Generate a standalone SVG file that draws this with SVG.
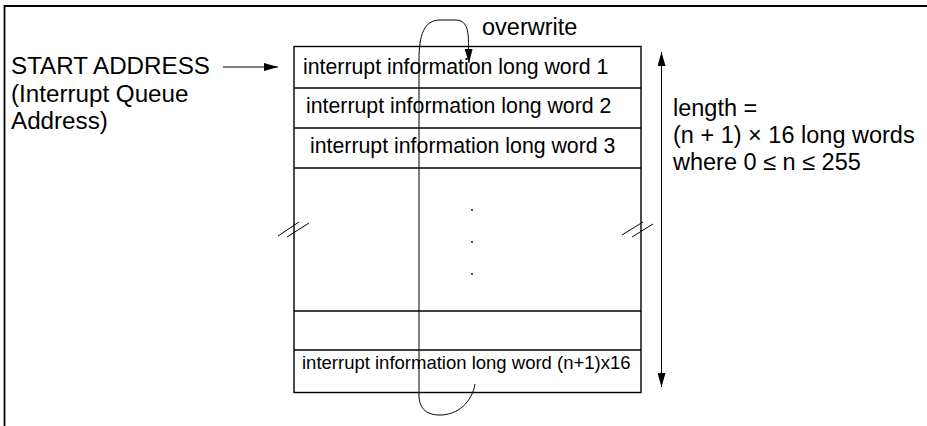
<svg xmlns="http://www.w3.org/2000/svg" width="927" height="426" viewBox="0 0 927 426">
<style>
text{font-family:"Liberation Sans",Arial,sans-serif;fill:#000}
.lbl{font-size:23.5px}
.lbl2{font-size:24.2px}
.row{font-size:21.3px}
.rowsm{font-size:18.5px}
.ln{stroke:#000;stroke-width:1.4;fill:none}
.thin{stroke:#000;stroke-width:1;fill:none}
.frame{stroke:#000;stroke-width:1.8;fill:none}
</style>
<defs>
<marker id="ah" viewBox="0 0 14 8" refX="14" refY="4" markerWidth="14" markerHeight="8" markerUnits="userSpaceOnUse" orient="auto">
<path d="M0,0 L14,4 L0,8 Z" fill="#000"/>
</marker>
</defs>
<g id="frame">
<path class="frame" d="M4.5,426 L4.5,6 L927,6"/>
</g>
<g id="queue">
<rect class="ln" x="294" y="46.5" width="347" height="346"/>
<line class="ln" x1="294" y1="88" x2="641" y2="88"/>
<line class="ln" x1="294" y1="128" x2="641" y2="128"/>
<line class="ln" x1="294" y1="168" x2="641" y2="168"/>
<line class="ln" x1="294" y1="311" x2="641" y2="311"/>
<line class="ln" x1="294" y1="350" x2="641" y2="350"/>
<text class="row" x="303" y="74">interrupt information long word 1</text>
<text class="row" x="306" y="113">interrupt information long word 2</text>
<text class="row" x="310" y="153">interrupt information long word 3</text>
<text class="rowsm" x="302" y="369">interrupt information long word (n+1)x16</text>
<circle cx="472" cy="210" r="0.9" fill="#000"/>
<circle cx="472" cy="242" r="0.9" fill="#000"/>
<circle cx="472" cy="274" r="0.9" fill="#000"/>
</g>
<g id="breaks">
<line class="thin" x1="278" y1="236" x2="299" y2="222"/>
<line class="thin" x1="287" y1="237" x2="309" y2="223"/>
<line class="thin" x1="622" y1="235" x2="643" y2="222"/>
<line class="thin" x1="632" y1="237" x2="653" y2="224"/>
</g>
<g id="start-label">
<text class="lbl2" x="11" y="74">START ADDRESS</text>
<text class="lbl2" x="11" y="102">(Interrupt Queue</text>
<text class="lbl2" x="11" y="129">Address)</text>
</g>
<g id="length-label">
<text class="lbl" x="673" y="116">length =</text>
<text class="lbl" x="673" y="143">(n + 1) × 16 long words</text>
<text class="lbl" x="673" y="170">where 0 ≤ n ≤ 255</text>
</g>
<g id="overwrite-label">
<text class="lbl" x="482" y="35">overwrite</text>
</g>
<g id="connectors">
<line class="thin" x1="223" y1="67" x2="278" y2="67" marker-end="url(#ah)"/>
<line class="thin" x1="661.5" y1="220" x2="661.5" y2="52" marker-end="url(#ah)"/>
<line class="thin" x1="661.5" y1="220" x2="661.5" y2="387" marker-end="url(#ah)"/>
<path class="thin" d="M475,384 C472,402 458,415 440,415 C428,415 419,410 419,395 L419,60 C419,35 424,20 440,20 L455,20 C467,20 468.5,30 468.5,45 L469,63" marker-end="url(#ah)"/>
</g>
</svg>
